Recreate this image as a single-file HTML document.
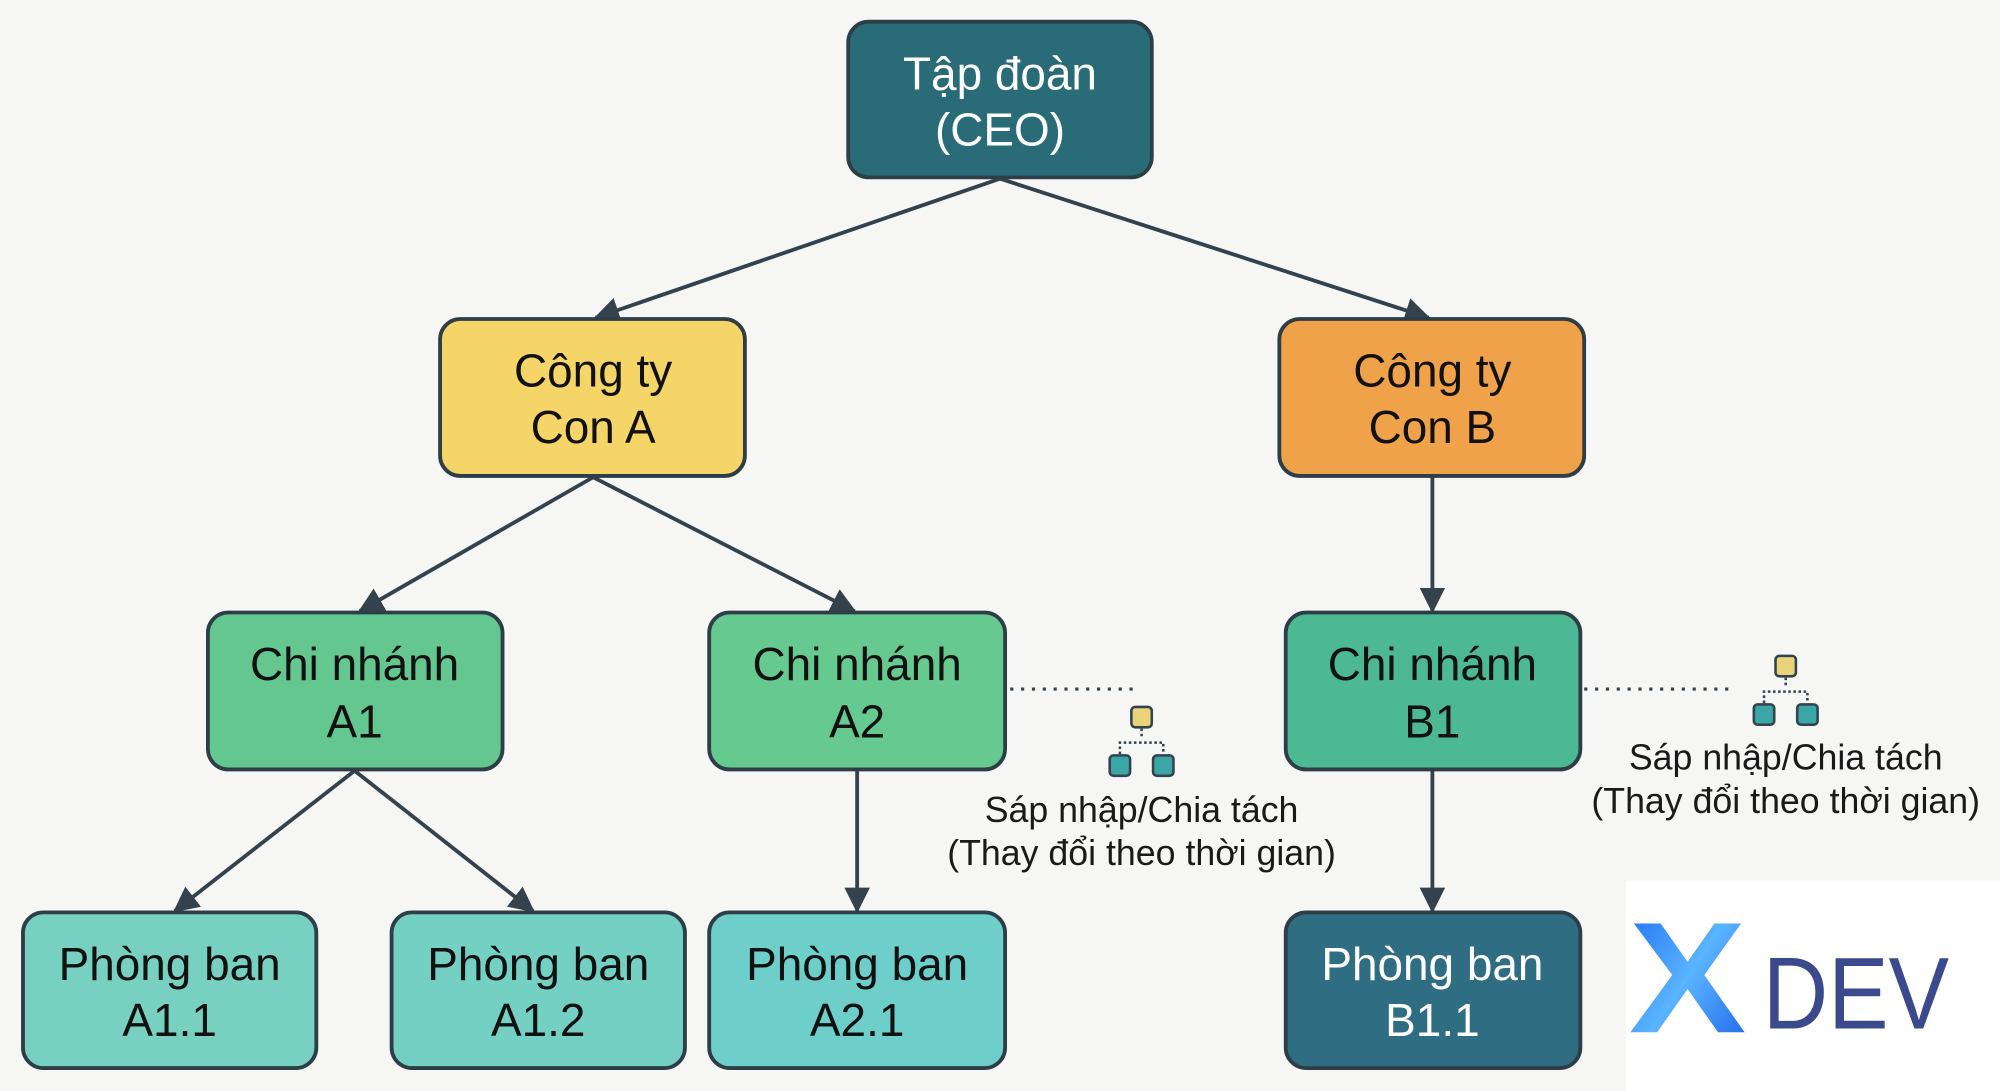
<!DOCTYPE html>
<html><head><meta charset="utf-8"><style>
html,body{margin:0;padding:0;background:#f6f7f5;}
svg{display:block;}
text{font-family:"Liberation Sans",sans-serif;}
</style></head><body>
<svg width="2000" height="1091" viewBox="0 0 1568 855" preserveAspectRatio="none" xmlns="http://www.w3.org/2000/svg">
<defs>
<marker id="a" viewBox="0 0 12 12" refX="11" refY="6" markerWidth="20" markerHeight="20" orient="auto" markerUnits="userSpaceOnUse"><path d="M0,0 L12,6 L0,12 Z" fill="#34424d"/></marker>
<linearGradient id="xg" x1="0" y1="0" x2="1" y2="1"><stop offset="0" stop-color="#1a6cf0"/><stop offset="0.5" stop-color="#5ab4ff"/><stop offset="1" stop-color="#1a5ee8"/></linearGradient>
</defs>
<rect width="1568" height="855" fill="#f6f7f5"/>
<rect x="1275" y="690" width="293" height="165" fill="#ffffff"/>
<g stroke="#34424d" stroke-width="3" fill="none" marker-end="url(#a)">
<line x1="784" y1="140" x2="467" y2="249"/>
<line x1="784" y1="140" x2="1120" y2="249"/>
<line x1="465" y1="374" x2="282" y2="479"/>
<line x1="465" y1="374" x2="670" y2="479"/>
<line x1="1123" y1="374" x2="1123" y2="479"/>
<line x1="278" y1="604" x2="137" y2="714"/>
<line x1="278" y1="604" x2="418" y2="714"/>
<line x1="672" y1="604" x2="672" y2="714"/>
<line x1="1123" y1="604" x2="1123" y2="714"/>
</g>
<g stroke="#34424d" stroke-width="2.5" stroke-dasharray="2.5 6" fill="none">
<line x1="792" y1="540" x2="892" y2="540"/>
<line x1="1242" y1="540" x2="1356" y2="540"/>
</g>
<g stroke="#2e3e46" stroke-width="3">
<rect x="665" y="17" width="238" height="122" rx="16" fill="#2a6b78"/>
<rect x="345" y="250" width="239" height="123" rx="16" fill="#f5d468"/>
<rect x="1003" y="250" width="239" height="123" rx="16" fill="#f0a24a"/>
<rect x="163" y="480" width="231" height="123" rx="16" fill="#63c78f"/>
<rect x="556" y="480" width="232" height="123" rx="16" fill="#66c990"/>
<rect x="1008" y="480" width="231" height="123" rx="16" fill="#4db894"/>
<rect x="18" y="715" width="230" height="122" rx="16" fill="#78d1c0"/>
<rect x="307" y="715" width="230" height="122" rx="16" fill="#74d0c2"/>
<rect x="556" y="715" width="232" height="122" rx="16" fill="#6ecfca"/>
<rect x="1008" y="715" width="231" height="122" rx="16" fill="#2f6d82"/>
</g>
<g font-size="36" text-anchor="middle" fill="#111">
<text x="784" y="70" fill="#fff">Tập đoàn</text><text x="784" y="114" fill="#fff">(CEO)</text>
<text x="465" y="303">Công ty</text><text x="465" y="347">Con A</text>
<text x="1123" y="303">Công ty</text><text x="1123" y="347">Con B</text>
<text x="278" y="533">Chi nhánh</text><text x="278" y="578">A1</text>
<text x="672" y="533">Chi nhánh</text><text x="672" y="578">A2</text>
<text x="1123" y="533">Chi nhánh</text><text x="1123" y="578">B1</text>
<text x="133" y="768">Phòng ban</text><text x="133" y="812">A1.1</text>
<text x="422" y="768">Phòng ban</text><text x="422" y="812">A1.2</text>
<text x="672" y="768">Phòng ban</text><text x="672" y="812">A2.1</text>
<text x="1123" y="768" fill="#fff">Phòng ban</text><text x="1123" y="812" fill="#fff">B1.1</text>
</g>
<g id="ic">
<g stroke="#34424d" stroke-width="2" fill="none" stroke-dasharray="2 2"><path d="M895,571 V578 M878,591 V582 H912 V591"/></g>
<rect x="887" y="554" width="16" height="16" rx="3" fill="#e8d27a" stroke="#34424d" stroke-width="2"/>
<rect x="870" y="592" width="16" height="16" rx="3" fill="#3aa6a6" stroke="#34424d" stroke-width="2"/>
<rect x="904" y="592" width="16" height="16" rx="3" fill="#3aa6a6" stroke="#34424d" stroke-width="2"/>
</g>
<use href="#ic" x="505" y="-40"/>
<g font-size="28" text-anchor="middle" fill="#1a1a1a">
<text x="895" y="644">Sáp nhập/Chia tách</text>
<text x="895" y="678">(Thay đổi theo thời gian)</text>
<text x="1400" y="603">Sáp nhập/Chia tách</text>
<text x="1400" y="637">(Thay đổi theo thời gian)</text>
</g>
<text x="1323" y="809" font-size="124" font-weight="bold" text-anchor="middle" fill="url(#xg)" textLength="92" lengthAdjust="spacingAndGlyphs">X</text>
<text x="1382" y="806" font-size="80" fill="#3b4a8c" textLength="146" lengthAdjust="spacingAndGlyphs">DEV</text>
</svg>
</body></html>
